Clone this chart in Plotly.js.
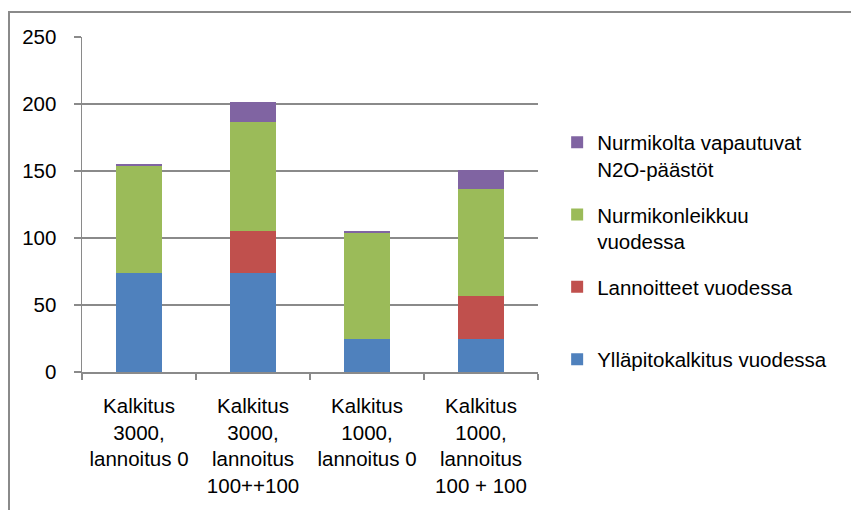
<!DOCTYPE html>
<html>
<head>
<meta charset="utf-8">
<script src="https://cdn.plot.ly/plotly-3.0.1.min.js"></script>
<style>
html,body{margin:0;padding:0;background:#fff;}
#wrap{position:relative;width:851px;height:510px;}
#chart{width:851px;height:510px;}
#frame{position:absolute;left:8px;top:11px;right:0;bottom:0;border-left:2px solid #8a8a8a;border-top:2px solid #8a8a8a;pointer-events:none;}
</style>
</head>
<body>
<div id="wrap"><div id="chart"></div><div id="frame"></div></div>
<script>
const categories = [
  "Kalkitus<br>3000,<br>lannoitus 0",
  "Kalkitus<br>3000,<br>lannoitus<br>100++100",
  "Kalkitus<br>1000,<br>lannoitus 0",
  "Kalkitus<br>1000,<br>lannoitus<br>100 + 100"
];
const seriesNames = [
  "Ylläpitokalkitus vuodessa",
  "Lannoitteet vuodessa<br>\u00a0",
  "Nurmikonleikkuu<br>vuodessa",
  "Nurmikolta vapautuvat<br>N2O-päästöt"
];
const yllapitokalkitus = [74, 74, 24.5, 24.5];
const lannoitteet = [0, 31, 0, 32];
const nurmikonleikkuu = [80, 81.5, 79.5, 80];
const n2oPaastot = [1.2, 14.7, 1.2, 14.5];
const seriesValues = [yllapitokalkitus, lannoitteet, nurmikonleikkuu, n2oPaastot];
const colors = ["#4F81BD", "#C0504D", "#9BBB59", "#8064A2"];
const yTicks = [0, 50, 100, 150, 200, 250];

const traces = seriesValues.map((vals, i) => ({
  type: "bar",
  name: seriesNames[i],
  x: categories,
  y: vals,
  legendgroup: "g" + i,
  legendrank: 1000 - i,
  marker: {color: colors[i], line: {width: 0}},
  hoverinfo: "y+name"
}));

const font = {family: "Liberation Sans, Arial, sans-serif", size: 20.5, color: "#000"};

const layout = {
  width: 851, height: 510,
  margin: {l: 82, r: 313, t: 37, b: 138},
  paper_bgcolor: "#fff", plot_bgcolor: "#fff",
  barmode: "stack",
  bargap: 0.6,
  font: font,
  showlegend: true,
  legend: {
    x: 1.042, xanchor: "left", y: 0.745, yanchor: "top",
    traceorder: "grouped", tracegroupgap: 16,
    valign: "top", font: font, bgcolor: "rgba(0,0,0,0)"
  },
  xaxis: {
    type: "category",
    showline: true, linecolor: "#8a8a8a", linewidth: 1.5,
    ticks: "outside", ticklen: 6, tickcolor: "#8a8a8a", tickwidth: 1.5,
    tickson: "boundaries",
    showgrid: false, zeroline: false,
    tickfont: font, ticklabelstandoff: 15, fixedrange: true
  },
  yaxis: {
    range: [0, 250], tickvals: yTicks, ticktext: yTicks.map(String),
    showline: true, linecolor: "#8a8a8a", linewidth: 1.5,
    ticks: "outside", ticklen: 7, tickcolor: "#8a8a8a", tickwidth: 1.5,
    showgrid: true, gridcolor: "#8a8a8a", gridwidth: 1.5,
    zeroline: false, tickfont: font, ticklabelstandoff: 13, fixedrange: true
  }
};

Plotly.newPlot("chart", traces, layout, {displayModeBar: false, staticPlot: true});
</script>
</body>
</html>
